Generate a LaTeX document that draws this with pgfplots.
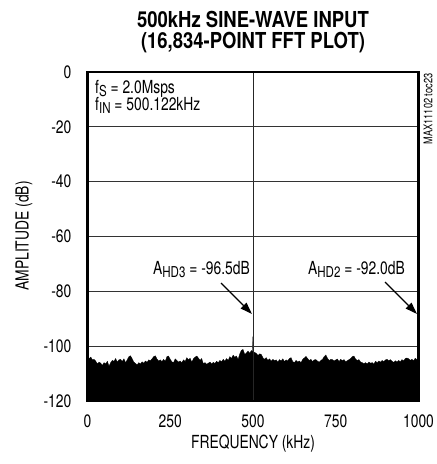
\documentclass[border=0pt]{standalone}
\usepackage{fontspec}
\setmainfont{TeX Gyre Heros}[FakeStretch=0.77]
\newfontfamily\titlefont{TeX Gyre Heros}[FakeStretch=0.84]
\usepackage{pgfplots}
\pgfplotsset{compat=1.18}
\usetikzlibrary{arrows.meta}

\newcommand\normalf{\fontsize{18bp}{20bp}\selectfont}
\newcommand\sub[1]{\raisebox{-0.35ex}{\fontsize{15bp}{15bp}\selectfont #1}}

\begin{document}
\begin{tikzpicture}
\useasboundingbox (0,0) rectangle (437bp,-464bp);

\begin{axis}[
    at={(87.5bp,-401bp)}, anchor=south west,
    width=331bp, height=329bp, scale only axis,
    xmin=0, xmax=1000, ymin=-120, ymax=0,
    xtick={0,250,500,750,1000},
    ytick={-120,-100,-80,-60,-40,-20,0},
    major tick length=0,
    ymajorgrids,
    grid style={black!80, line width=0.9bp},
    axis line style={line width=2.5bp},
    axis on top,
    /pgf/number format/assume math mode=true,
    /pgf/number format/set thousands separator={},
    tick label style={font=\normalf, inner sep=0pt},
    yticklabel style={xshift=-16bp},
    xticklabel style={yshift=-14bp},
]
% noise floor in 5 kHz steps
\addplot[fill=black, draw=black, line width=0.3bp] coordinates {
(0,-120) (0,-103.5) (5,-104.5) (10,-104) (15,-105) (20,-104.8) (25,-105.5)
(30,-106.5) (35,-105.8) (40,-106.2) (45,-107) (50,-106) (55,-106.5)
(60,-105.5) (65,-107.3) (70,-106) (75,-105.2) (80,-105.5) (85,-104.5)
(90,-105.8) (95,-105) (100,-104.8) (105,-105.6) (110,-104.6) (115,-106)
(120,-105) (125,-103.8) (130,-103.5) (135,-104.6) (140,-105.8) (145,-106.3)
(150,-106.8) (155,-106) (160,-106.5) (165,-105.7) (170,-106.2) (175,-105.4)
(180,-105.9) (185,-105) (190,-105.3) (195,-104.6) (200,-103.8) (205,-103.5)
(210,-104.7) (215,-105.4) (220,-105) (225,-105.6) (230,-104.8) (235,-105.5)
(240,-103.8) (245,-103.6) (250,-104.8) (255,-105.7) (260,-106) (265,-104.6)
(270,-105.2) (275,-105.8) (280,-105.4) (285,-106) (290,-105) (295,-105.6)
(300,-104.2) (305,-105) (310,-104.4) (315,-105.8) (320,-104.6) (325,-104)
(330,-103.6) (335,-104.3) (340,-105.2) (345,-104.5) (350,-106.4) (355,-106)
(360,-106.6) (365,-106.2) (370,-105.8) (375,-106.5) (380,-105.9) (385,-106.3)
(390,-105.5) (395,-106) (400,-105.2) (405,-105.7) (410,-104.8) (415,-105.5)
(420,-104.5) (425,-105.2) (430,-103.8) (435,-104.5) (440,-103.3) (445,-104)
(450,-103.6) (455,-104.8) (460,-102.8) (465,-101.5) (470,-101.2) (475,-103)
(480,-102.5) (485,-101.8) (490,-102.6) (495,-101.6) (498.5,-102) (499.6,-96.5)
(501,-102) (505,-102.3) (510,-102.6) (515,-103.4) (520,-102.8) (525,-103)
(530,-104.2) (535,-104.8) (540,-104.2) (545,-105.2) (550,-104.6) (555,-105.5)
(560,-104.8) (565,-105.3) (570,-105) (575,-105.8) (580,-104.9) (585,-105.4)
(590,-104.6) (595,-105.6) (600,-105) (605,-105.4) (610,-104.5) (615,-104.2)
(620,-105.6) (625,-106) (630,-105.2) (635,-105.8) (640,-105.4) (645,-106)
(650,-104.8) (655,-104.3) (660,-103.7) (665,-104.5) (670,-105.2) (675,-104.8)
(680,-105.6) (685,-105) (690,-104.9) (695,-105.5) (700,-105.8) (705,-105.2)
(710,-104.8) (715,-103.8) (720,-103.2) (725,-104.4) (730,-105.2) (735,-104.8)
(740,-104.9) (745,-105.4) (750,-105) (755,-104.7) (760,-105.6) (765,-104.8)
(770,-105.3) (775,-104.9) (780,-105.7) (785,-105.3) (790,-104.9) (795,-104.5)
(800,-103.8) (805,-103.6) (810,-104.7) (815,-105.2) (820,-104.9) (825,-105.8)
(830,-106) (835,-106.4) (840,-106) (845,-106.5) (850,-105.8) (855,-106.2)
(860,-106) (865,-106.6) (870,-105.5) (875,-106) (880,-105.4) (885,-105.8)
(890,-105.2) (895,-105.6) (900,-105) (905,-104.8) (910,-105.3) (915,-104.9)
(920,-105.5) (925,-105.9) (930,-105.3) (935,-105.8) (940,-105.2) (945,-105.7)
(950,-104.9) (955,-105.4) (960,-104.5) (965,-104.3) (970,-104.6) (975,-105.2)
(980,-104.8) (985,-105.4) (990,-104.4) (995,-104.9) (998.8,-104.5)
(999.7,-92) (1000,-104.5) (1000,-120)
};
% fundamental
\addplot[black!85, line width=0.9bp] coordinates {(500.1,-120) (500.1,0)};
\end{axis}

% labels
\node[font=\titlefont\fontsize{22bp}{24bp}\selectfont\bfseries] at (253bp,-19bp) {500kHz SINE-WAVE INPUT};
\node[font=\titlefont\fontsize{22bp}{24bp}\selectfont\bfseries] at (253bp,-43bp) {(16,834-POINT FFT PLOT)};
\node[font=\normalf] at (253bp,-444bp) {FREQUENCY (kHz)};
\node[font=\normalf, rotate=90] at (24bp,-236bp) {AMPLITUDE (dB)};
\node[font=\fontsize{12bp}{12bp}\selectfont, rotate=90, anchor=east] at (428bp,-70bp) {MAX11102 toc23};

\node[font=\normalf, anchor=base west, inner sep=0pt] at (95bp,-93bp) {f\sub{S} = 2.0Msps};
\node[font=\normalf, anchor=base west, inner sep=0pt] at (95bp,-110bp) {f\sub{IN} = 500.122kHz};
\node[font=\normalf, anchor=base east, inner sep=0pt] at (250bp,-274bp) {A\sub{HD3} = -96.5dB};
\node[font=\normalf, anchor=base east, inner sep=0pt] at (405bp,-274bp) {A\sub{HD2} = -92.0dB};

\draw[line width=1.2bp, -{Triangle[length=12bp, width=8bp]}] (221bp,-283bp) -- (252bp,-314bp);
\draw[line width=1.2bp, -{Triangle[length=12bp, width=8bp]}] (385bp,-282bp) -- (417bp,-314bp);
\end{tikzpicture}
\end{document}
